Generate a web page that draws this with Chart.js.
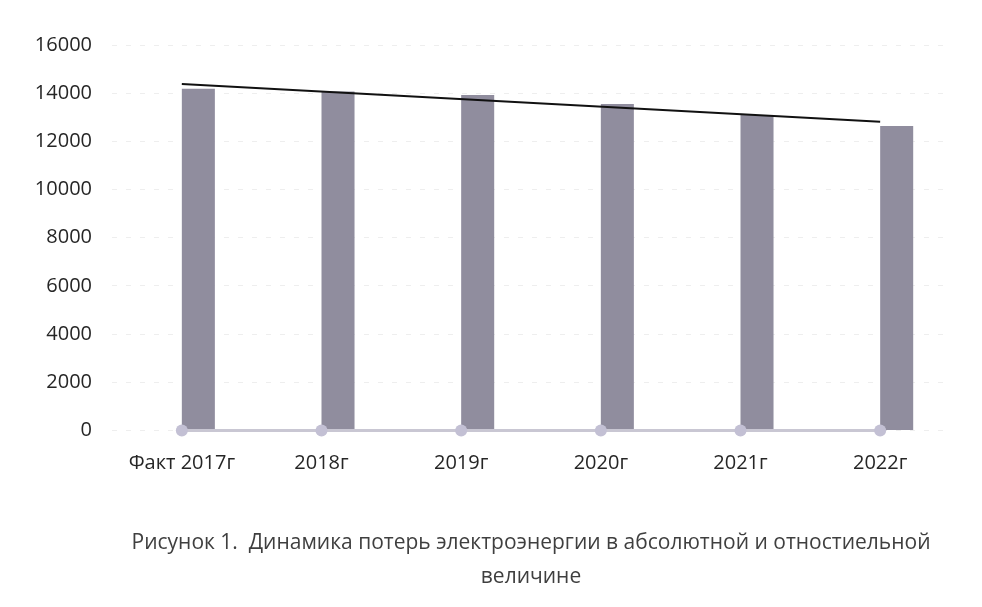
<!DOCTYPE html>
<html>
<head>
<meta charset="utf-8">
<script src="https://cdn.jsdelivr.net/npm/chart.js"></script>
<style>
  html, body { margin: 0; padding: 0; background: #ffffff; }
  #wrap { width: 982px; height: 607px; position: relative; }
</style>
</head>
<body>
<div id="wrap"><canvas id="lossChart"></canvas></div>
<script>
(function(){
    "use strict";
    // data
    var years = ["Факт 2017г", "2018г", "2019г", "2020г", "2021г", "2022г"];
    var absLoss = [14180, 14070, 13930, 13550, 13100, 12640];
    var relLoss = [0, 0, 0, 0, 0, 0];
    var trendEnds = [14380, null, null, null, null, 12810];
    var yTicks = [0, 2000, 4000, 6000, 8000, 10000, 12000, 14000, 16000];
    var caption = ["Рисунок 1.  Динамика потерь электроэнергии в абсолютной и отностиельной", "величине"];

    var chartArea = document.querySelector("#lossChart");
    var lossChart = new Chart(chartArea, {
        type: 'bar',
        data: {
            labels: years,
            datasets: [
                {
                    type: 'line',
                    label: 'trend',
                    data: trendEnds,
                    borderColor: '#111111',
                    borderWidth: 2,
                    pointRadius: 0,
                    spanGaps: true,
                    order: 0
                },
                {
                    type: 'line',
                    label: 'rel',
                    data: relLoss,
                    borderColor: '#c9c7d3',
                    borderWidth: 3,
                    pointRadius: 6,
                    pointBackgroundColor: '#c3c0d4',
                    pointBorderWidth: 0,
                    clip: false,
                    order: 1
                },
                {
                    label: 'rel slot',
                    data: relLoss,
                    backgroundColor: 'rgba(0,0,0,0)',
                    order: 2
                },
                {
                    label: 'abs',
                    data: absLoss,
                    backgroundColor: '#908d9e',
                    order: 3
                }
            ]
        },
        options: {
            responsive: true,
            maintainAspectRatio: false,
            animation: false,
            datasets: {
                bar: { categoryPercentage: 0.473, barPercentage: 1.0 }
            },
            layout: { padding: { left: 0, right: 32, top: 45, bottom: 0 } },
            plugins: {
                legend: { display: false },
                tooltip: { enabled: false },
                title: {
                    display: true,
                    text: caption,
                    position: 'bottom',
                    fullSize: false,
                    color: '#3f3f3f',
                    font: { family: "'Open Sans'", size: 21, weight: 'normal', lineHeight: 1.63 },
                    padding: { top: 36, bottom: 13 }
                }
            },
            scales: {
                x: {
                    offset: true,
                    grid: { display: false, drawTicks: false },
                    border: { display: false },
                    ticks: {
                        color: '#262626',
                        padding: 21,
                        font: { family: "'Open Sans'", size: 20 }
                    },
                    afterFit: function(scale){ scale.height = 59; }
                },
                y: {
                    min: 0,
                    max: 16000,
                    afterBuildTicks: function(scale){
                        scale.ticks = yTicks.map(function(v){ return { value: v }; });
                    },
                    grid: { color: '#eeeeee', drawTicks: false },
                    border: { display: false, dash: [5, 9] },
                    ticks: {
                        color: '#262626',
                        padding: 20,
                        font: { family: "'Open Sans'", size: 20 },
                        callback: function(v){ return String(v); }
                    },
                    afterFit: function(scale){ scale.width = 112; }
                }
            }
        }
    });
})();
</script>
</body>
</html>
